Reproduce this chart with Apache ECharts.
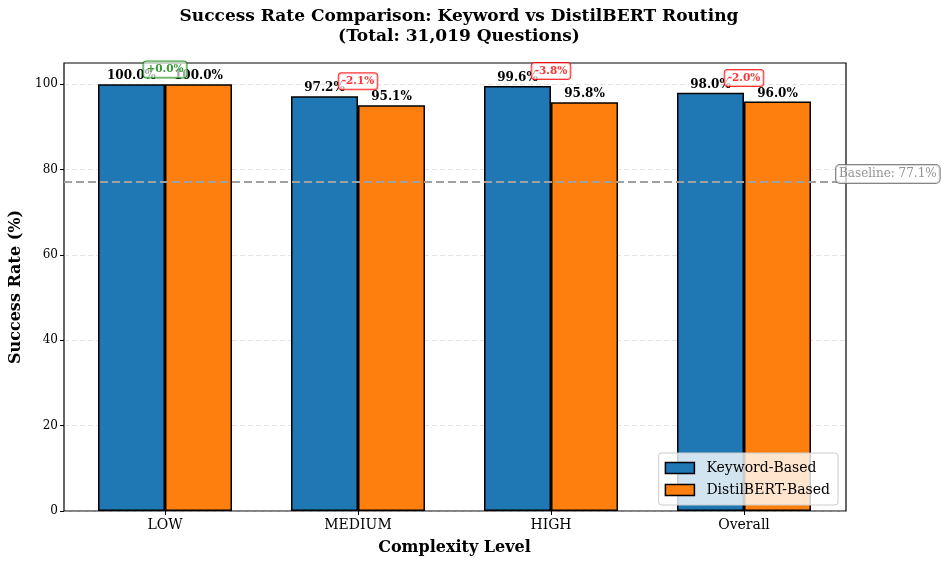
<!DOCTYPE html>
<html>
<head>
<meta charset="utf-8">
<script src="https://cdn.jsdelivr.net/npm/echarts@6/dist/echarts.min.js"></script>
<style>html,body{margin:0;padding:0;background:#fff}#c{width:947px;height:565px}</style>
</head>
<body>
<div id="c"></div>
<script>
const categories = ['LOW', 'MEDIUM', 'HIGH', 'Overall'];
const keywordRates = [100.0, 97.2, 99.6, 98.0];
const distilRates = [100.0, 95.1, 95.8, 96.0];
const baselineRate = 77.1;
const yTicks = [0, 20, 40, 60, 80, 100];

const F = 'DejaVu Serif';
const diffs = keywordRates.map((k, i) => distilRates[i] - k);
const annData = categories.map((c, i) => {
  const pos = diffs[i] >= 0;
  return {
    value: [c, Math.max(keywordRates[i], distilRates[i]) + 3.5],
    diff: diffs[i],
    label: {color: pos ? '#008000' : '#ff0000', borderColor: pos ? '#008000' : '#ff0000'}
  };
});

const chart = echarts.init(document.getElementById('c'), null, {renderer: 'canvas'});
const barLabel = {
  show: true, position: 'top', distance: 2,
  fontFamily: F, fontWeight: 'bold', fontSize: 12, color: '#000',
  formatter: p => p.value.toFixed(1) + '%'
};
chart.setOption({
  animation: false,
  backgroundColor: '#fff',
  title: {
    text: 'Success Rate Comparison: Keyword vs DistilBERT Routing\n(Total: 31,019 Questions)',
    left: 454, top: 2, textAlign: 'center',
    textStyle: {fontFamily: F, fontWeight: 'bold', fontSize: 17, lineHeight: 20, color: '#000'}
  },
  legend: {
    orient: 'vertical', right: 109, bottom: 60,
    data: ['Keyword-Based', 'DistilBERT-Based'],
    icon: 'rect',
    itemWidth: 29, itemHeight: 11, itemGap: 8,
    padding: [8, 8, 8, 6],
    backgroundColor: 'rgba(255,255,255,0.8)',
    borderColor: '#ccc', borderWidth: 1, borderRadius: 3,
    textStyle: {fontFamily: F, fontSize: 14, color: '#000', padding: [0, 0, 0, 7]},
    itemStyle: {borderColor: '#000', borderWidth: 1.5}
  },
  grid: [
    {left: 62, right: 101, top: 63, bottom: 54, show: true, borderColor: '#000', borderWidth: 1.2, backgroundColor: 'transparent'},
    {left: 68.5, right: 106.5, top: 63, bottom: 54}
  ],
  xAxis: [
    {type: 'value', gridIndex: 0, min: 0, max: 1, show: false},
    {
      type: 'category', gridIndex: 1, data: categories,
      name: 'Complexity Level', nameLocation: 'middle', nameGap: 29,
      nameTextStyle: {fontFamily: F, fontWeight: 'bold', fontSize: 16, color: '#000'},
      axisLine: {show: false},
      axisTick: {show: true, alignWithLabel: true, length: 4, lineStyle: {color: '#000'}},
      axisLabel: {fontFamily: F, fontSize: 14, color: '#000', margin: 7}
    }
  ],
  yAxis: [
    {
      type: 'value', gridIndex: 0, min: 0, max: 105, interval: 20,
      name: 'Success Rate (%)', nameLocation: 'middle', nameGap: 40,
      nameTextStyle: {fontFamily: F, fontWeight: 'bold', fontSize: 16, color: '#000'},
      axisLine: {show: false},
      axisTick: {show: true, length: 4, lineStyle: {color: '#000'}, customValues: yTicks},
      axisLabel: {fontFamily: F, fontSize: 12, color: '#000', margin: 6, customValues: yTicks},
      splitLine: {show: true, lineStyle: {color: 'rgba(176,176,176,0.35)', type: [5, 3], width: 1}}
    },
    {type: 'value', gridIndex: 1, min: 0, max: 105, show: false}
  ],
  series: [
    {
      name: 'Keyword-Based', type: 'bar', xAxisIndex: 1, yAxisIndex: 1,
      data: keywordRates, barWidth: 67, barGap: '0%',
      itemStyle: {color: '#1f77b4', borderColor: '#000', borderWidth: 1.5},
      label: barLabel, z: 3
    },
    {
      name: 'DistilBERT-Based', type: 'bar', xAxisIndex: 1, yAxisIndex: 1,
      data: distilRates, barWidth: 67,
      itemStyle: {color: '#ff7f0e', borderColor: '#000', borderWidth: 1.5},
      label: barLabel, z: 3
    },
    {
      name: 'diff', type: 'scatter', xAxisIndex: 1, yAxisIndex: 1,
      data: annData, symbolSize: 0, z: 10, silent: true,
      label: {
        show: true, position: 'inside',
        fontFamily: F, fontWeight: 'bold', fontSize: 10.5,
        formatter: p => (p.data.diff >= 0 ? '+' : '') + p.data.diff.toFixed(1) + '%',
        backgroundColor: 'rgba(255,255,255,0.8)', borderRadius: 3, borderWidth: 1,
        padding: [3, 3, 2, 3]
      },
      labelLayout: {hideOverlap: false}
    },
    {
      name: 'baseline', type: 'line', xAxisIndex: 0, yAxisIndex: 0, data: [],
      markLine: {
        silent: true, symbol: 'none',
        lineStyle: {color: '#a0a0a0', type: [8, 4], width: 2},
        label: {show: false},
        data: [{yAxis: baselineRate}]
      }
    },
    {
      name: 'baselineLabel', type: 'scatter', xAxisIndex: 0, yAxisIndex: 0,
      data: [[1, baselineRate]], symbolSize: 0, z: 10, silent: true,
      label: {
        show: true, position: [-10, -17],
        formatter: 'Baseline: ' + baselineRate + '%',
        fontFamily: F, fontSize: 12, color: '#777',
        backgroundColor: 'rgba(255,255,255,0.85)', borderColor: '#666', borderWidth: 1, borderRadius: 4,
        padding: [3, 3, 3, 3]
      },
      labelLayout: {hideOverlap: false}
    }
  ]
});
</script>
</body>
</html>
